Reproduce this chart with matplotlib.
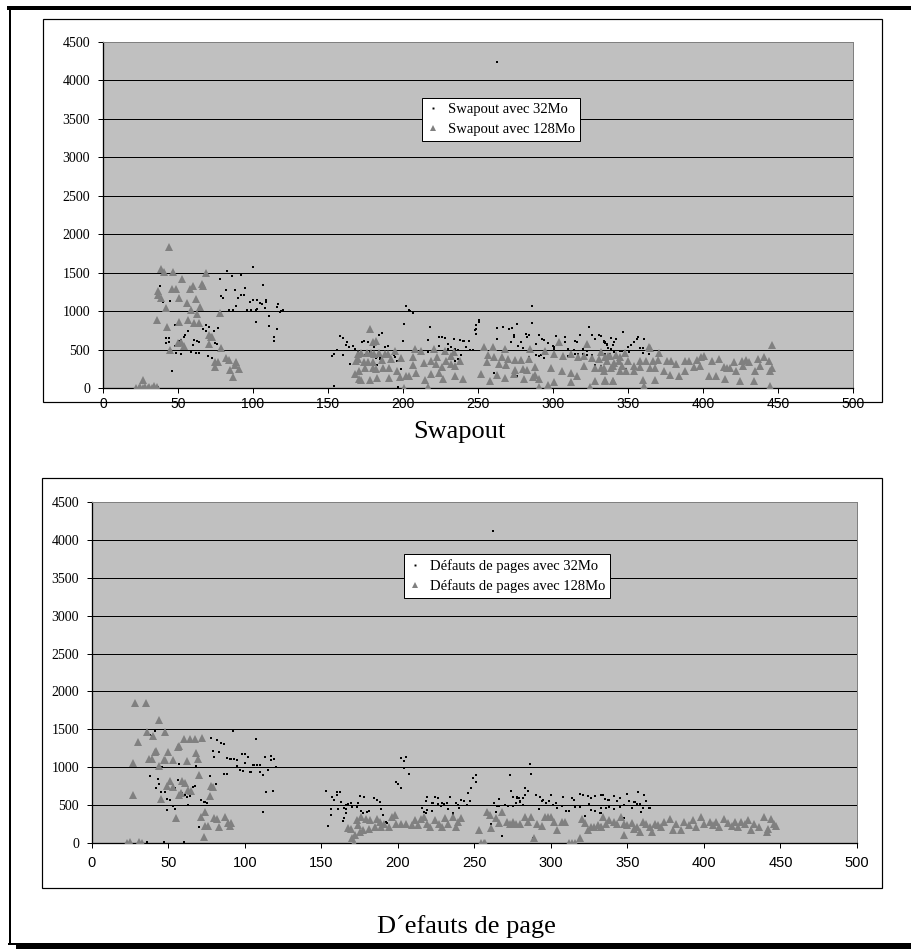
import matplotlib
matplotlib.use("Agg")
import matplotlib.pyplot as plt
from matplotlib.patches import Rectangle
from matplotlib.lines import Line2D

# ---- data ----
xticks = list(range(0, 501, 50))
yticks = list(range(0, 4501, 500))

# Swapout avec 32Mo
swap32_x = [100, 83, 86, 92, 78, 107, 38, 95, 82, 88, 79, 80, 92, 94, 90, 40, 45, 100, 103, 98,
            105, 106, 109, 109, 108, 89, 84, 87, 96, 99, 102, 103, 117, 116, 119, 120, 118, 111, 102, 111,
            116, 114, 114, 48, 57, 69, 71, 77, 67, 69, 74, 55, 54, 52, 42, 44, 42, 44, 61, 63,
            64, 51, 48, 60, 75, 76, 49, 52, 59, 62, 64, 70, 73, 46, 37, 158, 156, 154, 153, 160,
            162, 164, 167, 163, 160, 165, 154, 170, 171,
            202, 204, 205, 207, 201, 200, 218, 217, 224, 226, 228, 230, 232, 234, 238, 240, 241, 244, 248, 249,
            251, 249, 267, 271, 273, 276, 263, 274, 274, 282, 284, 283, 286, 286, 279, 277, 280, 272, 291, 293,
            294, 289, 302, 308, 304, 308, 318, 315, 316, 324, 326, 328, 332, 334, 335, 336, 297, 300, 301, 310,
            314, 320, 323, 337, 339, 340, 168, 170, 173, 174, 177, 180, 184, 186, 190, 188, 181, 172, 175, 178,
            180, 183, 185, 182, 185, 183, 190, 194, 195, 196, 199, 197, 217, 221, 224, 227, 228, 230, 235, 237,
            239, 242, 245, 247, 237, 235, 261, 276, 284, 289, 291, 292, 294, 310, 315, 317, 320, 323, 326, 328,
            330, 332, 335, 338, 341, 301, 263, 251, 249,
            347, 357, 356, 361, 354, 352, 342, 339, 334, 335, 336, 341, 331, 358, 360, 350, 345, 346, 351, 360,
            364, 338, 349, 263]
swap32_y = [1573, 1517, 1460, 1473, 1421, 1335, 1330, 1304, 1274, 1274, 1196, 1170, 1205, 1205, 1166, 1122, 1131, 1148, 1148, 1114,
            1101, 1092, 1144, 1114, 1036, 1066, 1010, 1010, 1010, 1018, 1018, 1027, 1092, 1049, 997, 1018, 984, 932, 854, 802,
            771, 667, 611, 819, 741, 819, 793, 780, 767, 745, 745, 693, 659, 628, 654, 654, 585, 603, 628, 611,
            598, 615, 546, 555, 581, 568, 459, 438, 468, 459, 459, 416, 386, 226, 13, 681, 494, 442, 412, 646,
            564, 538, 546, 594, 425, 312, 26, 477, 442,
            1066, 1010, 1001, 980, 837, 612, 797, 624, 667, 667, 654, 568, 538, 637, 624, 611, 611, 611, 754, 767,
            862, 698, 797, 767, 784, 836, 641, 685, 667, 702, 685, 667, 1066, 849, 603, 551, 525, 594, 689, 637,
            628, 577, 676, 667, 594, 594, 689, 611, 594, 797, 689, 637, 672, 611, 594, 568, 585, 542, 529, 503,
            490, 503, 485, 520, 503, 555, 503, 477, 594, 607, 594, 594, 685, 711, 551, 538, 538, 451, 434, 464,
            442, 399, 399, 390, 377, 299, 442, 434, 399, 356, 247, 7, 464, 507, 550, 442, 477, 511, 507, 494,
            434, 538, 494, 494, 377, 351, 191, 152, 399, 433, 412, 433, 390, 412, 442, 442, 442, 433, 433, 303,
            338, 281, 442, 433, 464, 503, 780, 884, 820,
            724, 667, 637, 637, 603, 560, 637, 646, 603, 581, 560, 594, 689, 525, 525, 538, 481, 481, 472, 459,
            446, 446, 243, 4240]

# Swapout avec 128Mo
swap128_x = [44, 39, 41, 47, 69, 53, 60, 58, 66, 67, 46, 49, 37, 37, 39, 51, 62, 56, 42, 65,
             59, 63, 78, 36, 57, 51, 61, 64, 43, 72, 71, 73, 50, 52, 54, 45, 71, 79, 75, 77,
             75, 82, 84, 89, 88, 85, 87, 91, 27, 22, 24, 25, 27, 28, 30, 31, 33, 34, 36, 170,
             168, 171,
             178, 182, 180, 170, 172, 176, 179, 181, 184, 188, 190, 195, 169, 174, 177, 180, 186, 192, 199, 171,
             175, 180, 182, 187, 191, 196, 172, 178, 183, 191, 198, 202, 204, 209, 207, 207, 212, 208, 201, 214,
             219, 222, 226, 229, 232, 235, 238, 217, 215, 219, 224, 227, 235, 240, 221, 228, 234, 223, 232, 254,
             260, 268, 257, 261, 266, 270, 275, 279, 284, 256, 264, 269, 275, 280, 283, 288, 252, 258, 263, 268,
             274, 281, 287, 291, 297, 285, 304, 323, 295, 301, 307, 312, 317, 321, 326, 331, 337, 299, 306, 312,
             316, 321, 328, 334, 339, 301, 312, 325, 328, 335, 340, 291, 288,
             446, 364, 365, 332, 335, 338, 342, 345, 348,
             332, 336, 341, 344, 346, 350, 354, 358, 362, 367, 371, 370, 376, 379, 382, 388, 391, 396, 399, 401,
             406, 411, 416, 421, 426, 429, 431, 437, 441, 444,
             334, 340, 345, 349, 354, 358, 365, 368, 374, 378, 384, 388, 394, 398, 404, 409, 414, 418, 422, 427,
             435, 438, 445, 446, 335, 340, 360, 368, 415, 425, 434, 361, 445]
swap128_y = [1840, 1547, 1512, 1512, 1491, 1417, 1326, 1283, 1352, 1321, 1283, 1283, 1265, 1209, 1174, 1174, 1157, 1109, 1036, 1058,
             1014, 958, 971, 884, 884, 854, 845, 845, 789, 667, 689, 667, 581, 603, 551, 490, 572, 525, 343, 343,
             278, 386, 365, 343, 299, 234, 148, 247, 104, 0, 5, 10, 0, 15, 5, 10, 0, 20, 10, 377,
             186, 121,
             763, 611, 594, 438, 460, 460, 460, 438, 455, 438, 438, 481, 351, 343, 343, 334, 360, 373, 386, 221,
             264, 264, 243, 264, 256, 221, 108, 100, 126, 126, 143, 152, 152, 195, 303, 399, 485, 511, 0, 329,
             351, 308, 273, 351, 308, 286, 351, 9, 108, 182, 195, 121, 152, 121, 507, 477, 468, 399, 412, 533,
             533, 507, 425, 403, 403, 381, 360, 368, 381, 338, 316, 295, 238, 251, 230, 273, 186, 87, 173, 130,
             186, 121, 143, 13, 43, 507, 598, 576, 477, 438, 416, 446, 403, 416, 395, 373, 416, 264, 221, 199,
             156, 286, 264, 221, 264, 74, 74, 9, 95, 95, 95, 121, 165,
             555, 538, 516, 473, 407, 421, 429, 407, 451,
             260, 355, 325, 347, 282, 347, 282, 355, 355, 347, 455, 368, 347, 347, 312, 347, 347, 368, 399, 412,
             347, 377, 260, 338, 347, 368, 333, 381, 403, 347,
             260, 282, 217, 217, 217, 269, 260, 260, 217, 174, 152, 217, 269, 282, 152, 152, 269, 260, 217, 282,
             217, 282, 217, 260, 108, 95, 108, 108, 121, 95, 95, 22, 26]

# Défauts de pages avec 32Mo
pf32_x = [92, 41, 39, 38, 78, 82, 84, 86, 107, 79, 80, 83, 98, 100, 102, 100, 95, 97, 99, 88,
          90, 91, 93, 95, 105, 106, 108, 110, 103, 104, 110, 112, 115, 113, 117, 119, 117, 120, 114, 118,
          112, 46, 57, 68, 38, 43, 44, 42, 54, 56, 67, 66, 59, 61, 62, 64, 63, 77, 81, 86,
          88, 45, 48, 49, 51, 53, 54, 49, 71, 73, 74, 75, 76, 55, 70, 36, 47, 60, 153, 157,
          158, 160, 162, 160, 163, 166, 166, 161, 156, 156, 165, 154,
          202, 205, 204, 204, 207, 199, 200, 202, 249, 251, 251, 248, 246, 286, 287, 273, 274, 283, 285, 283,
          282, 280, 279, 278, 275, 290, 293, 295, 297, 300, 303, 307, 308, 314, 315, 319, 321, 324, 326, 329,
          333, 292, 294, 299, 301, 304, 310, 312, 316, 319, 322, 325, 326, 329, 332, 333, 266, 263, 265, 270,
          272, 275, 277, 280, 282, 278, 268, 288, 261, 264, 266, 219, 224, 226, 222, 223, 226, 229, 228, 230,
          232, 233, 234, 238, 239, 241, 243, 247, 245, 240, 236, 236, 216, 217, 219, 218, 165, 166, 167, 169,
          170, 173, 174, 175, 176, 178, 177, 180, 181, 184, 186, 188, 189, 190, 192, 193, 196, 164, 218, 222,
          334, 335, 337, 338, 341, 343, 345, 350, 351, 354, 355, 357, 358, 361, 362, 360, 364, 365, 359, 333,
          336, 338, 341, 345, 348, 353, 356, 348, 262]
pf32_y = [1474, 1474, 1408, 1421, 1386, 1355, 1320, 1311, 1377, 1210, 1131, 1197, 1170, 1170, 1135, 1056, 1012, 968, 950, 1122,
          1113, 1113, 1109, 1100, 1030, 1030, 1030, 1030, 942, 942, 942, 897, 963, 1131, 1144, 1113, 1100, 1003, 673, 686,
          405, 1003, 1047, 1021, 888, 844, 783, 721, 721, 835, 748, 735, 660, 638, 607, 616, 502, 880, 783, 906,
          906, 669, 669, 581, 572, 484, 449, 440, 572, 541, 541, 528, 581, 317, 211, 9, 9, 9, 691, 607,
          563, 673, 673, 629, 546, 502, 445, 445, 445, 374, 330, 224,
          1122, 1140, 1078, 990, 906, 805, 779, 722, 858, 893, 805, 730, 655, 1047, 906, 893, 691, 730, 691, 638,
          594, 550, 598, 611, 611, 629, 611, 563, 532, 629, 524, 488, 603, 598, 568, 651, 629, 616, 598, 616,
          638, 449, 554, 559, 502, 466, 427, 427, 475, 471, 352, 515, 440, 427, 392, 462, 576, 532, 488, 506,
          488, 488, 532, 541, 506, 590, 88, 66, 255, 405, 488, 611, 611, 590, 532, 524, 510, 532, 488, 510,
          524, 453, 611, 532, 497, 563, 550, 550, 497, 466, 400, 378, 466, 409, 436, 554, 466, 400, 510, 524,
          480, 480, 524, 620, 422, 607, 400, 409, 422, 598, 563, 546, 444, 365, 277, 268, 334, 286, 400, 422,
          628, 584, 562, 562, 615, 549, 593, 646, 554, 545, 545, 673, 514, 628, 549, 457, 457, 457, 404, 391,
          457, 470, 453, 479, 497, 457, 510, 325, 4120]

# Défauts de pages avec 128Mo
pf128_x = [28, 35, 44, 36, 40, 48, 30, 60, 64, 67, 72, 57, 56, 42, 41, 50, 37, 39, 47, 48,
           53, 62, 68, 69, 27, 44, 70, 51, 59, 61, 49, 53, 79, 78, 63, 65, 57, 58, 77, 45,
           27, 74, 71, 55, 80, 82, 87, 89, 91, 90, 83, 76, 74, 73, 23, 25, 31, 33, 167,
           169, 170, 171, 172, 175, 174, 177, 181, 173, 176, 179, 182, 186, 188, 185, 189, 191, 194, 196, 198,
           199, 202, 205, 209, 211, 213, 215, 217, 219, 221, 224, 227, 229, 231, 233, 236, 239, 241, 238, 253,
           254, 256, 257, 258, 260, 261, 264, 266, 268, 271, 273, 275, 277, 280, 283, 285, 287, 289, 291, 294,
           296, 298, 300, 302, 304, 307, 309, 312, 314, 316, 319, 320, 322, 324, 326, 328, 331, 333,
           334, 333, 336, 338, 341, 343, 346, 348, 348, 350, 353, 354, 356, 358, 360, 362, 365, 366, 368, 370,
           372, 374, 378, 380, 382, 385, 387, 390, 393, 395, 398, 400, 404, 406, 408, 410, 413, 416, 418, 420,
           422, 424, 427, 429, 431, 433, 436, 439, 441, 442, 444, 446, 447]
pf128_y = [1848, 1848, 1628, 1465, 1417, 1465, 1329, 1373, 1373, 1373, 1386, 1276, 1263, 1210, 1197, 1197, 1109, 1109, 1100, 1100,
           1100, 1087, 1188, 1109, 1056, 1012, 897, 822, 814, 796, 748, 739, 739, 757, 704, 682, 638, 660, 625, 581,
           638, 405, 343, 334, 334, 312, 343, 268, 268, 224, 216, 224, 224, 84, 0, 13, 13, 0, 198,
           180, 70, 0, 110, 141, 242, 172, 180, 308, 343, 321, 308, 321, 277, 211, 211, 255, 211, 343, 365, 246,
           255, 255, 242, 299, 233, 321, 343, 255, 211, 308, 255, 211, 334, 255, 343, 277, 334, 211, 172,
           0, 0, 0, 405, 374, 198, 334, 264, 405, 277, 255, 277, 246, 255, 343, 277, 343, 70, 255, 220,
           343, 343, 343, 277, 172, 277, 277, 0, 0, 0, 62, 321, 264, 172, 211, 211, 233, 211,
           343, 211, 255, 308, 277, 246, 343, 255, 110, 233, 264, 189, 211, 145, 277, 255, 211, 145, 255, 233,
           211, 277, 321, 176, 255, 167, 277, 233, 299, 211, 343, 255, 277, 233, 277, 211, 321, 264, 220, 277,
           211, 277, 246, 308, 176, 255, 211, 343, 145, 189, 321, 255, 220]

# ---- figure ----
W, H = 912, 949
fig = plt.figure(figsize=(W / 100, H / 100), dpi=100)
px = 72 / 100

SERIF = "Liberation Serif"
SANS = "Liberation Sans"
GRAY_BG = "#c0c0c0"
TRI = "#808080"


def fig_rect(x0, y0, x1, y1):
    return [x0 / W, 1 - y1 / H, (x1 - x0) / W, (y1 - y0) / H]


def draw_panel(rect, xs1, ys1, xs2, ys2, labels, leg_anchor, ysize, xsize, leg_size, xpad):
    ax = fig.add_axes(rect)
    ax.set_facecolor(GRAY_BG)
    ax.plot(xs1, ys1, "s", ms=2.0, color="black", mew=0, zorder=3, label=labels[0])
    ax.plot(xs2, ys2, "^", ms=5.4, color=TRI, mec=TRI, mew=0, zorder=4, label=labels[1])
    ax.set_xlim(0, 500)
    ax.set_ylim(0, 4500)
    ax.set_xticks(xticks)
    ax.set_yticks(yticks)
    ax.yaxis.grid(True, color="black", lw=1 * px)
    ax.set_axisbelow(True)
    for s in ("top", "right"):
        ax.spines[s].set_color("#808080")
        ax.spines[s].set_linewidth(1 * px)
    for s in ("left", "bottom"):
        ax.spines[s].set_color("black")
        ax.spines[s].set_linewidth(1.3 * px)
    ax.tick_params(direction="out", length=5 * px, width=1 * px, color="black")
    ax.tick_params(axis="y", pad=8 * px, labelsize=ysize, labelfontfamily=SERIF)
    ax.tick_params(axis="x", pad=xpad, labelsize=xsize, labelfontfamily=SANS)
    leg = ax.legend(loc="upper left", bbox_to_anchor=leg_anchor, borderaxespad=0,
                    fancybox=False, framealpha=1, edgecolor="black", handlelength=0.8,
                    handletextpad=0.6, labelspacing=0.45, borderpad=0.35, markerscale=0.7,
                    prop={"family": SERIF, "size": leg_size})
    leg.get_frame().set_linewidth(1 * px)
    return ax


draw_panel(fig_rect(103, 42, 853, 388), swap32_x, swap32_y, swap128_x, swap128_y,
           ["Swapout avec 32Mo", "Swapout avec 128Mo"], (0.426, 0.838), 10, 10, 10.5, 4 * px)
draw_panel(fig_rect(92, 502, 857, 843), pf32_x, pf32_y, pf128_x, pf128_y,
           ["Défauts de pages avec 32Mo", "Défauts de pages avec 128Mo"], (0.408, 0.848), 10, 10.5, 10.5, 8 * px)

# chart boxes
for x0, y0, x1, y1 in [(43, 19, 882, 402), (42, 478, 882, 888)]:
    fig.add_artist(Rectangle((x0 / W, 1 - y1 / H), (x1 - x0) / W, (y1 - y0) / H,
                             transform=fig.transFigure, fill=False, ec="black", lw=1.2 * px))

# outer frame
fig.add_artist(Line2D([9 / W, 1], [1 - 8 / H, 1 - 8 / H], transform=fig.transFigure, color="black", lw=4 * px))
fig.add_artist(Line2D([10 / W, 10 / W], [1 - 8 / H, 1 - 944 / H], transform=fig.transFigure, color="black", lw=2 * px))
fig.add_artist(Line2D([9 / W, 1], [1 - 943.5 / H, 1 - 943.5 / H], transform=fig.transFigure, color="black", lw=2 * px))
fig.add_artist(Line2D([18 / W, 1], [1 - 947 / H, 1 - 947 / H], transform=fig.transFigure, color="black", lw=4 * px))

# titles
fig.text(459 / W, 1 - 432 / H, "Swapout", ha="center", va="center", fontsize=19, family=SERIF)
fig.text(466 / W, 1 - 927 / H, "D\u00b4efauts de page", ha="center", va="center", fontsize=19, family=SERIF)

fig.savefig("out.png", dpi=100)
